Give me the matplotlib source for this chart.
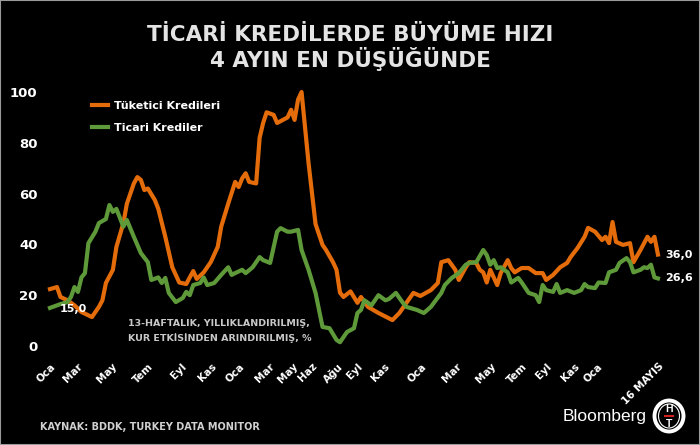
import matplotlib.pyplot as plt
from matplotlib.patches import Ellipse, Rectangle
from matplotlib.lines import Line2D

# weekly index from the first week of January 2019 to mid-May 2022
tuketici_weeks = [0, 2, 3, 5, 7, 9, 12, 14, 15, 16, 18, 19, 21, 22, 24, 25, 26, 27, 28, 30,
                  31, 33, 35, 37, 39, 40, 41, 42, 44, 46, 48, 49, 51, 53, 54, 55, 56, 57, 59, 60,
                  61, 62, 64, 65, 68, 69, 70, 71, 72, 73, 74, 76, 78, 79, 81, 82, 83, 84, 86, 88,
                  89, 91, 94, 98, 100, 102, 104, 106, 109, 111, 112, 114, 116, 117, 119, 120, 122, 123, 124, 125,
                  126, 128, 129, 131, 132, 133, 135, 137, 139, 141, 142, 144, 146, 148, 149, 151, 153, 154, 156, 158,
                  159, 160, 161, 162, 164, 166, 167, 169, 171, 172, 173, 174]
tuketici = [22.4, 23.2, 19.3, 18.0, 16.0, 13.4, 11.4, 15.4, 18.0, 24.8, 30.0, 39.0, 48.4, 56.0, 64.0, 66.5, 65.4, 61.4, 62.0, 57.5,
            54.0, 43.0, 31.0, 25.0, 24.4, 27.0, 29.5, 26.4, 29.0, 33.0, 39.0, 47.0, 56.0, 64.6, 62.6, 66.0, 68.0, 64.6, 64.0, 82.0,
            87.8, 92.0, 91.0, 87.8, 90.0, 93.0, 89.0, 97.0, 100.0, 86.0, 72.0, 48.0, 39.8, 37.8, 33.0, 30.0, 21.0, 19.3, 21.5, 17.0,
            19.3, 15.4, 13.0, 10.2, 13.0, 17.0, 20.9, 19.7, 22.0, 24.8, 33.0, 33.8, 30.0, 26.0, 31.0, 33.0, 32.7, 30.0, 29.0, 25.0,
            30.0, 24.0, 28.7, 33.8, 30.7, 29.0, 30.7, 30.7, 28.7, 28.7, 26.0, 28.0, 31.0, 32.7, 35.0, 38.6, 43.0, 46.5, 45.0, 41.7,
            43.0, 40.5, 48.8, 41.0, 39.8, 40.5, 33.0, 37.8, 43.0, 41.0, 43.0, 36.0]

ticari_weeks = [0, 3, 5, 6, 7, 8, 9, 10, 11, 13, 14, 16, 17, 18, 19, 21, 22, 24, 26, 28,
                29, 31, 32, 33, 34, 36, 38, 39, 40, 41, 43, 44, 45, 47, 49, 51, 52, 53, 55, 56,
                58, 60, 61, 63, 65, 66, 68, 69, 71, 72, 74, 76, 78, 80, 82, 83, 85, 87, 88, 89,
                90, 92, 94, 96, 97, 99, 101, 102, 105, 107, 109, 112, 113, 115, 117, 119, 120, 122, 124, 125,
                126, 127, 128, 129, 131, 132, 134, 135, 137, 139, 140, 141, 142, 144, 145, 146, 148, 150, 152, 153,
                154, 156, 157, 159, 160, 162, 163, 165, 166, 167, 169, 170, 171, 172, 173, 174]
ticari = [15.0, 16.5, 17.3, 19.3, 23.2, 21.3, 27.0, 28.7, 40.5, 45.0, 48.4, 50.0, 55.5, 52.8, 54.0, 47.0, 49.6, 43.0, 36.6, 33.0,
          26.0, 27.0, 24.8, 26.8, 20.9, 17.3, 18.9, 21.3, 20.0, 24.0, 24.8, 27.0, 24.0, 24.8, 28.0, 31.0, 28.0, 28.7, 30.0, 28.7,
          31.0, 35.0, 33.8, 32.7, 45.0, 46.4, 45.0, 45.0, 45.7, 37.8, 30.0, 20.9, 7.5, 7.0, 2.4, 1.5, 5.5, 7.0, 13.0, 14.2,
          18.0, 16.0, 20.0, 18.0, 18.5, 20.9, 17.0, 15.4, 14.2, 13.0, 15.4, 20.9, 24.0, 26.8, 28.7, 32.0, 32.7, 33.0, 37.8, 35.8,
          32.0, 33.8, 30.7, 31.0, 29.0, 25.0, 26.8, 25.0, 20.9, 20.0, 17.3, 24.0, 22.0, 21.3, 24.4, 20.9, 22.0, 20.9, 22.0, 24.4,
          23.2, 22.8, 25.0, 24.8, 29.0, 30.0, 32.7, 34.6, 33.0, 29.0, 30.0, 31.0, 30.7, 32.0, 27.0, 26.6]

tick_weeks = [0, 7.7, 17.7, 28, 37.7, 46.3, 54.3, 62.9, 69.4, 74.9, 82.3, 88, 95.7,
              106.3, 116.3, 126.3, 135.1, 142, 150, 156.6, 174.3]
tick_labels = ['Oca', 'Mar', 'May', 'Tem', 'Eyl', 'Kas', 'Oca', 'Mar', 'May', 'Haz', 'Ağu', 'Eyl', 'Kas',
               'Oca', 'Mar', 'May', 'Tem', 'Eyl', 'Kas', 'Oca', '16 MAYIS']

ORANGE = '#E46C0A'
GREEN = '#5E9A3A'
W, H = 700, 445


def fx(px):
    return px / W


def fy(py):
    return 1 - py / H


fig = plt.figure(figsize=(7, 4.45), dpi=100, facecolor='black')
ax = fig.add_axes([fx(50), fy(346), (659 - 50) / W, (346 - 92) / H])
ax.set_facecolor('black')

ax.plot(tuketici_weeks, tuketici, color=ORANGE, lw=3.0, solid_joinstyle='round', clip_on=False,
        label='Tüketici Kredileri')
ax.plot(ticari_weeks, ticari, color=GREEN, lw=3.0, solid_joinstyle='round', clip_on=False,
        label='Ticari Krediler')

ax.set_xlim(0, 174)
ax.set_ylim(0, 100)
for s in ax.spines.values():
    s.set_visible(False)

ax.set_yticks([0, 20, 40, 60, 80, 100])
ax.tick_params(axis='y', length=0, pad=9, labelcolor='white', labelsize=9.5)
for t in ax.get_yticklabels():
    t.set_fontweight('bold')

ax.set_xticks(tick_weeks)
ax.set_xticklabels(tick_labels, rotation=45, ha='right', va='top', rotation_mode='anchor',
                   color='white', fontsize=7.5, fontweight='bold')
ax.tick_params(axis='x', length=0, pad=11)

# start / end value labels
ax.annotate(f'{ticari[0]:.1f}'.replace('.', ','), (ticari_weeks[0], ticari[0]),
            xytext=(7, -1), textcoords='offset points', ha='left', va='center',
            color='white', fontsize=8, fontweight='bold', annotation_clip=False)
ax.annotate(f'{tuketici[-1]:.1f}'.replace('.', ','), (tuketici_weeks[-1], tuketici[-1]),
            xytext=(5, 0), textcoords='offset points', ha='left', va='center',
            color='white', fontsize=8, fontweight='bold', annotation_clip=False)
ax.annotate(f'{ticari[-1]:.1f}'.replace('.', ','), (ticari_weeks[-1], ticari[-1]),
            xytext=(5, 0), textcoords='offset points', ha='left', va='center',
            color='white', fontsize=8, fontweight='bold', annotation_clip=False)

leg = fig.legend(loc='upper left', bbox_to_anchor=(fx(86), fy(95)), frameon=False,
                 handlelength=1.5, handletextpad=0.5, labelspacing=1.1, borderpad=0,
                 prop={'weight': 'bold', 'size': 8})
for t in leg.get_texts():
    t.set_color('white')

fig.text(0.5, fy(35), 'TİCARİ KREDİLERDE BÜYÜME HIZI', ha='center', va='center',
         color='#E4E4E4', fontsize=15.5, fontweight='bold')
fig.text(0.5, fy(59), '4 AYIN EN DÜŞÜĞÜNDE', ha='center', va='center',
         color='#E4E4E4', fontsize=15.5, fontweight='bold')

fig.text(fx(128), fy(324), '13-HAFTALIK, YILLIKLANDIRILMIŞ,', ha='left', va='center',
         color='#C8C8C8', fontsize=6.8, fontweight='bold')
fig.text(fx(128), fy(338), 'KUR ETKİSİNDEN ARINDIRILMIŞ, %', ha='left', va='center',
         color='#C8C8C8', fontsize=6.8, fontweight='bold')

fig.text(fx(40), fy(427), 'KAYNAK: BDDK, TURKEY DATA MONITOR', ha='left', va='center',
         color='#D0D0D0', fontsize=7, fontweight='bold')

# Bloomberg HT logo
fig.text(fx(647), fy(417), 'Bloomberg', ha='right', va='center', color='white',
         fontsize=12.5, family='Liberation Sans')
fig.add_artist(Ellipse((fx(669), fy(416)), 29 / W, 31 / H, transform=fig.transFigure,
                       facecolor='black', edgecolor='white', lw=2.8))
fig.add_artist(Ellipse((fx(669), fy(416)), 21 / W, 24 / H, transform=fig.transFigure,
                       facecolor='none', edgecolor='white', lw=0.8))
fig.text(fx(669), fy(409), 'H', ha='center', va='center', color='white', fontsize=7.5,
         fontweight='bold', family='Liberation Sans')
fig.text(fx(669), fy(424), 'T', ha='center', va='center', color='white', fontsize=7.5,
         fontweight='bold', family='Liberation Sans')
fig.add_artist(Line2D([fx(665), fx(673)], [fy(416), fy(416)], transform=fig.transFigure,
                      color='#D02020', lw=1.5))

fig.add_artist(Rectangle((0, 0), 1, 1, transform=fig.transFigure, fill=False,
                         edgecolor='#9A9A9A', lw=1.5))

fig.savefig('out.png', dpi=100, facecolor='black')
